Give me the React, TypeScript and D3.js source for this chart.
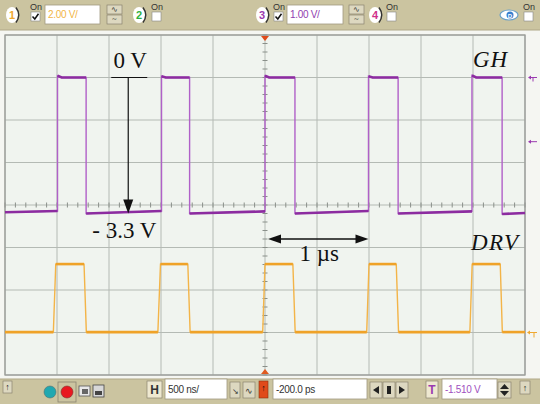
import React from 'react';
import * as d3 from 'd3';

// ---- data (time in ns, 500 ns/div; voltages per channel) ----
const timeDomain: [number, number] = [-2500, 2500];
const divDomain: [number, number] = [-4, 4];

// GH trace (channel 3, 1.00 V/div, ground at +3 div)
const ghRise = [-1995, -995, 0, 995, 1990];
const ghFall = [-1720, -725, 288, 1280, 2280];
const ghHighStart = [0.04, 0.03, 0.04, 0.03, 0.05];
const ghHigh = [0.0, 0.0, 0.0, 0.0, 0.0];
const ghLowStart = [-3.17, -3.2, -3.2, -3.2, -3.2, -3.21];
const ghLowEnd = [-3.14, -3.14, -3.15, -3.14, -3.15, -3.19];

// DRV trace (channel 1, 2.00 V/div, ground at -3 div)
const drvRiseStart = [-2035, -1030, -22, 978, 1970];
const drvRiseEnd = [-2012, -1005, 0, 1000, 1992];
const drvFallStart = [-1740, -742, 268, 1262, 2262];
const drvFallEnd = [-1718, -720, 290, 1284, 2282];
const drvHigh = [3.22, 3.22, 3.22, 3.22, 3.22];
const drvLow = [0.02, 0.02, 0.02, 0.02, 0.02, 0.02];

const ghOffsetDiv = 3;
const ghVoltsPerDiv = 1;
const drvOffsetDiv = -3;
const drvVoltsPerDiv = 2;
const triggerLevel = -1.51;
const arrowTime = -1315;
const arrowFrom = 0;
const arrowTo = -3.2;
const spanDiv = -0.8;

const W = 540, H = 404;

type P = [number, number];

function buildGH() {
  const path: P[] = [];
  const flats: P[][] = [];
  const lead: P[] = [[timeDomain[0], ghLowStart[0]], [ghRise[0], ghLowEnd[0]]];
  flats.push(lead);
  path.push(...lead);
  ghRise.forEach((r, i) => {
    const high: P[] = [[r, ghHighStart[i]], [r + 40, ghHigh[i]], [ghFall[i], ghHigh[i]]];
    const nextT = i + 1 < ghRise.length ? ghRise[i + 1] : timeDomain[1];
    const low: P[] = [[ghFall[i], ghLowStart[i + 1]], [nextT, ghLowEnd[i + 1]]];
    path.push(...high, ...low);
    flats.push(high, low);
  });
  return { path, flats };
}

function buildDRV() {
  const path: P[] = [];
  const flats: P[][] = [];
  const lead: P[] = [[timeDomain[0], drvLow[0]], [drvRiseStart[0], drvLow[0]]];
  flats.push(lead);
  path.push(...lead);
  drvRiseStart.forEach((r, i) => {
    const high: P[] = [[drvRiseEnd[i], drvHigh[i]], [drvFallStart[i], drvHigh[i]]];
    const nextT = i + 1 < drvRiseStart.length ? drvRiseStart[i + 1] : timeDomain[1];
    const low: P[] = [[drvFallEnd[i], drvLow[i + 1]], [nextT, drvLow[i + 1]]];
    path.push(...high, ...low);
    flats.push(high, low);
  });
  return { path, flats };
}

const TAN = '#cbc4a0';
const sans = '"Liberation Sans", Arial, sans-serif';
const serif = '"Liberation Serif", "Times New Roman", serif';

function Check({ x, y, checked }: { x: number; y: number; checked: boolean }) {
  return (
    <g>
      <text x={x} y={y} fontFamily={sans} fontSize={9} fill="#333">On</text>
      <rect x={x + 1} y={y + 2} width={9} height={9} fill="#fff" stroke="#888" strokeWidth={0.6} />
      {checked && <path d={`M${x + 2.5},${y + 6.5} L${x + 4.8},${y + 9} L${x + 8.5},${y + 3.8}`} stroke="#111" strokeWidth={1.5} fill="none" />}
    </g>
  );
}

function ChanBadge({ x, y, label, color }: { x: number; y: number; label: string; color: string }) {
  return (
    <g>
      <ellipse cx={x} cy={y} rx={6} ry={8} fill="#fff" />
      <text x={x} y={y + 4} textAnchor="middle" fontFamily={sans} fontWeight="bold" fontSize={11} fill={color}>{label}</text>
      <path d={`M${x + 4},${y - 7.5} Q${x + 9.5},${y} ${x + 4},${y + 7.5}`} stroke="#333" strokeWidth={1.4} fill="none" />
    </g>
  );
}

function Field({ x, y, w, h, text, color }: { x: number; y: number; w: number; h: number; text: string; color: string }) {
  return (
    <g>
      <rect x={x} y={y} width={w} height={h} fill="#fff" stroke="#a09a80" strokeWidth={0.8} />
      <text x={x + 3} y={y + h / 2 + 3.5} fontFamily={sans} fontSize={10} fill={color} letterSpacing={-0.3}>{text}</text>
    </g>
  );
}

function Btn({ x, y, w, h, children }: { x: number; y: number; w: number; h: number; children?: React.ReactNode }) {
  return (
    <g>
      <rect x={x} y={y} width={w} height={h} fill="#ddd8c0" stroke="#8a8470" strokeWidth={0.7} />
      {children}
    </g>
  );
}

export default function App() {
  const x = d3.scaleLinear().domain(timeDomain).range([5, 525]);
  const yd = d3.scaleLinear().domain(divDomain).range([375, 35]);
  const yGH = (v: number) => yd(v / ghVoltsPerDiv + ghOffsetDiv);
  const yDRV = (v: number) => yd(v / drvVoltsPerDiv + drvOffsetDiv);

  const gh = buildGH();
  const drv = buildDRV();
  const lineGH = d3.line<P>().x(d => x(d[0])).y(d => yGH(d[1]));
  const lineDRV = d3.line<P>().x(d => x(d[0])).y(d => yDRV(d[1]));

  const gridX = d3.range(timeDomain[0], timeDomain[1] + 1, 500);
  const gridY = d3.range(divDomain[0], divDomain[1] + 1, 1);
  const minorX = d3.range(timeDomain[0], timeDomain[1] + 1, 100);
  const minorY = d3.range(-20, 21).map(d => d / 5);
  const cx = x(0), cy = yd(0);

  const ax = x(arrowTime);
  const ay0 = yGH(arrowFrom), ay1 = yGH(arrowTo);
  const spanY = yd(spanDiv);
  const sx0 = x(ghRise[2]) + 3, sx1 = x(ghRise[3]);

  return (
    <svg width={W} height={H} style={{ position: 'absolute', left: 0, top: 0 }}>
      <rect x={0} y={0} width={W} height={H} fill="#f5f6f2" />
      {/* top bar */}
      <rect x={0} y={0} width={W} height={30} fill={TAN} />
      <line x1={0} x2={W} y1={30} y2={30} stroke="#b0a888" />
      <ChanBadge x={12} y={15} label="1" color="#f0a830" />
      <Check x={30} y={10} checked />
      <Field x={45} y={5} w={55} h={19} text="2.00 V/" color="#f2b545" />
      <Btn x={107} y={5} w={15} h={9}><text x={114.5} y={12} textAnchor="middle" fontSize={8} fill="#333">∿</text></Btn>
      <Btn x={107} y={15} w={15} h={9}><text x={114.5} y={22} textAnchor="middle" fontSize={8} fill="#333">~</text></Btn>
      <ChanBadge x={139} y={15} label="2" color="#30b040" />
      <Check x={151} y={10} checked={false} />
      <ChanBadge x={262} y={15} label="3" color="#9a3ab0" />
      <Check x={273} y={10} checked />
      <Field x={287} y={5} w={56} h={19} text="1.00 V/" color="#9040b0" />
      <Btn x={349} y={5} w={15} h={9}><text x={356.5} y={12} textAnchor="middle" fontSize={8} fill="#333">∿</text></Btn>
      <Btn x={349} y={15} w={15} h={9}><text x={356.5} y={22} textAnchor="middle" fontSize={8} fill="#333">~</text></Btn>
      <ChanBadge x={375} y={15} label="4" color="#d0308a" />
      <Check x={386} y={10} checked={false} />
      <ellipse cx={509} cy={15} rx={9} ry={5} fill="#fff" stroke="#6aa0c8" strokeWidth={1.2} />
      <circle cx={510} cy={15} r={3.5} fill="#3a80d0" />
      <text x={510} y={17.5} textAnchor="middle" fontFamily={sans} fontSize={6} fontWeight="bold" fill="#fff">D</text>
      <Check x={523} y={10} checked={false} />

      {/* plot area */}
      <rect x={5} y={35} width={520} height={340} fill="#f0f4ef" />
      {gridX.map(t => <line key={'gx' + t} x1={x(t)} x2={x(t)} y1={35} y2={375} stroke="#b4bab4" strokeWidth={1} />)}
      {gridY.map(d => <line key={'gy' + d} x1={5} x2={525} y1={yd(d)} y2={yd(d)} stroke="#b4bab4" strokeWidth={1} />)}
      {minorX.map(t => <line key={'mx' + t} x1={x(t)} x2={x(t)} y1={cy - 2.5} y2={cy + 2.5} stroke="#8a908a" strokeWidth={1} />)}
      {minorY.map(d => <line key={'my' + d} x1={cx - 2.5} x2={cx + 2.5} y1={yd(d)} y2={yd(d)} stroke="#8a908a" strokeWidth={1} />)}
      <rect x={5} y={35} width={520} height={340} fill="none" stroke="#9a9c98" strokeWidth={1.3} />

      {/* traces */}
      <path d={lineDRV(drv.path) || ''} fill="none" stroke="#f3b448" strokeWidth={1.4} />
      {drv.flats.map((f, i) => <path key={'df' + i} d={lineDRV(f) || ''} fill="none" stroke="#efa228" strokeWidth={2.6} />)}
      <path d={lineGH(gh.path) || ''} fill="none" stroke="#b060c8" strokeWidth={1.4} />
      {gh.flats.map((f, i) => <path key={'gf' + i} d={lineGH(f) || ''} fill="none" stroke="#8c2ca0" strokeWidth={2.6} />)}

      {/* trigger markers */}
      <path d={`M${cx - 4},${36} L${cx + 4},${36} L${cx},${41} Z`} fill="#e04a1a" />
      <path d={`M${cx - 4},${374} L${cx + 4},${374} L${cx},${369} Z`} fill="#e05a20" />

      {/* right side markers */}
      <g stroke="#9a3ab0" fill="#9a3ab0">
        <line x1={530} x2={537} y1={yGH(0)} y2={yGH(0)} strokeWidth={1} />
        <path d={`M${528},${yGH(0)} L${531},${yGH(0) - 2} L${531},${yGH(0) + 2} Z`} stroke="none" />
        <line x1={533} x2={533} y1={yGH(0)} y2={yGH(0) + 4} strokeWidth={1} />
        <line x1={531} x2={537} y1={yGH(triggerLevel)} y2={yGH(triggerLevel)} strokeWidth={1} />
        <path d={`M${528},${yGH(triggerLevel)} L${531},${yGH(triggerLevel) - 2} L${531},${yGH(triggerLevel) + 2} Z`} stroke="none" />
      </g>
      <g stroke="#f0a830" fill="#f0a830">
        <line x1={530} x2={537} y1={yDRV(0)} y2={yDRV(0)} strokeWidth={1} />
        <path d={`M${527},${yDRV(0)} L${530},${yDRV(0) - 2} L${530},${yDRV(0) + 2} Z`} stroke="none" />
        <line x1={534} x2={534} y1={yDRV(0)} y2={yDRV(0) + 5} strokeWidth={1} />
      </g>

      {/* annotations */}
      <line x1={ax - 17} x2={ax + 19} y1={ay0} y2={ay0} stroke="#111" strokeWidth={1.2} />
      <line x1={ax} x2={ax} y1={ay0} y2={ay1 - 12} stroke="#111" strokeWidth={1.2} />
      <path d={`M${ax - 5},${ay1 - 14} L${ax + 5},${ay1 - 14} L${ax},${ay1} Z`} fill="#111" />
      <text x={ax + 2} y={ay0 - 10} textAnchor="middle" fontFamily={serif} fontSize={23} fill="#111">0 V</text>
      <text x={ax - 36} y={ay1 + 24} fontFamily={serif} fontSize={23} fill="#111">- 3.3 V</text>

      <line x1={sx0 + 10} x2={sx1 - 10} y1={spanY} y2={spanY} stroke="#111" strokeWidth={1.3} />
      <path d={`M${sx0},${spanY} L${sx0 + 13},${spanY - 4.5} L${sx0 + 13},${spanY + 4.5} Z`} fill="#111" />
      <path d={`M${sx1},${spanY} L${sx1 - 13},${spanY - 4.5} L${sx1 - 13},${spanY + 4.5} Z`} fill="#111" />
      <text x={(sx0 + sx1) / 2 + 1} y={spanY + 22} textAnchor="middle" fontFamily={serif} fontSize={23} fill="#111">1 µs</text>

      <text x={x(ghRise[4]) + 1} y={yGH(0) - 10.5} fontFamily={serif} fontStyle="italic" fontSize={23} letterSpacing={1} fill="#111">GH</text>
      <text x={x(drvRiseStart[4]) + 1} y={yDRV(drvHigh[4]) - 14} fontFamily={serif} fontStyle="italic" fontSize={23} letterSpacing={1.5} fill="#111">DRV</text>

      {/* bottom bar */}
      <rect x={0} y={379} width={W} height={25} fill={TAN} />
      <line x1={0} x2={W} y1={379} y2={379} stroke="#b0a888" />
      <Btn x={3} y={381} w={9} h={12}><text x={7.5} y={390} textAnchor="middle" fontFamily={sans} fontSize={9} fontWeight="bold" fill="#222">↑</text></Btn>
      <circle cx={50} cy={392} r={6} fill="#20a8b0" stroke="#507070" strokeWidth={0.6} />
      <rect x={58} y={382} width={18} height={20} fill="none" stroke="#8a8470" strokeWidth={0.8} />
      <circle cx={67} cy={392} r={6} fill="#e81820" stroke="#803030" strokeWidth={0.6} />
      <rect x={79} y={386} width={11} height={10} fill="#e8e8e8" stroke="#555" strokeWidth={0.8} />
      <rect x={82} y={389} width={6} height={5} fill="#666" />
      <rect x={93} y={385} width={11} height={12} fill="#d8d8d8" stroke="#444" strokeWidth={0.8} />
      <rect x={95} y={391} width={7} height={4} fill="#444" />
      <rect x={147} y={381} width={15} height={17} fill="#eee8d0" stroke="#8a8470" strokeWidth={0.7} />
      <text x={154.5} y={394} textAnchor="middle" fontFamily={sans} fontSize={12} fontWeight="bold" fill="#333">H</text>
      <Field x={165} y={379} w={62} h={20} text="500 ns/" color="#333" />
      <Btn x={230} y={382} w={10} h={16}><text x={235} y={394} textAnchor="middle" fontSize={8} fill="#333">↘</text></Btn>
      <Btn x={243} y={382} w={12} h={16}><text x={249} y={394} textAnchor="middle" fontSize={9} fill="#333">∿</text></Btn>
      <rect x={259} y={381} width={9} height={17} fill="#e04a1a" stroke="#8a3010" strokeWidth={0.6} />
      <text x={263.5} y={391} textAnchor="middle" fontFamily={sans} fontSize={9} fontWeight="bold" fill="#111">↑</text>
      <Field x={273} y={379} w={94} h={20} text="-200.0 ps" color="#333" />
      <Btn x={370} y={382} w={12} h={16}><path d="M373,390 L379,386 L379,394 Z" fill="#222" /></Btn>
      <Btn x={383} y={382} w={12} h={16}><rect x={387} y={386} width={4} height={8} fill="#222" /></Btn>
      <Btn x={396} y={382} w={12} h={16}><path d="M405,390 L399,386 L399,394 Z" fill="#222" /></Btn>
      <rect x={426} y={381} width={12} height={17} fill="#eee8d0" stroke="#8a8470" strokeWidth={0.7} />
      <text x={432} y={394} textAnchor="middle" fontFamily={sans} fontSize={12} fontWeight="bold" fill="#9a3ab0">T</text>
      <Field x={442} y={379} w={55} h={20} text="-1.510 V" color="#a050c0" />
      <Btn x={498} y={382} w={13} h={16}>
        <path d="M500,389 L509,389 L504.5,384 Z" fill="#222" />
        <path d="M500,391 L509,391 L504.5,396 Z" fill="#222" />
      </Btn>
      <Btn x={520} y={381} w={10} h={13}><text x={525} y={391} textAnchor="middle" fontFamily={sans} fontSize={9} fontWeight="bold" fill="#222">↑</text></Btn>
    </svg>
  );
}
